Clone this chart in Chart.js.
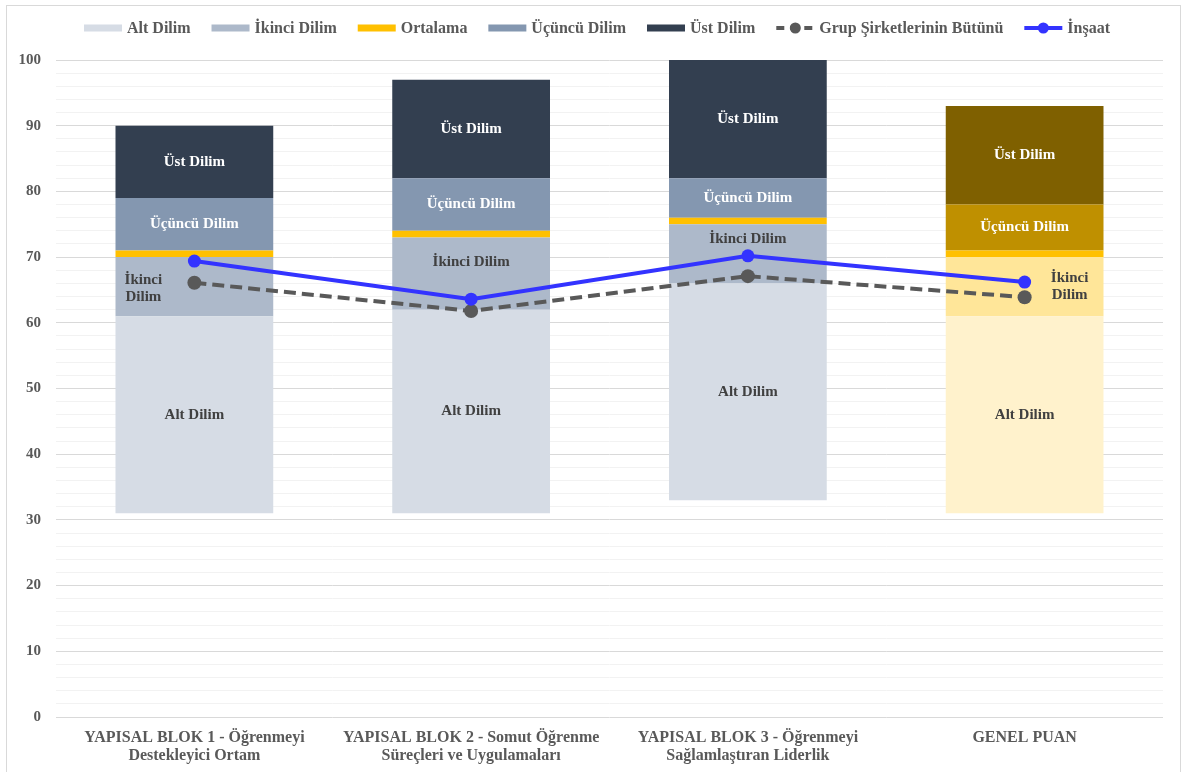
<!DOCTYPE html>
<html lang="tr">
<head>
<meta charset="utf-8">
<title>Yapısal Bloklar - Dilimler</title>
<script src="https://cdn.jsdelivr.net/npm/chart.js@4.4.1/dist/chart.umd.min.js"></script>
<style>
  html, body { margin: 0; padding: 0; background: #ffffff; }
  #wrap { position: relative; width: 1184px; height: 772px; overflow: hidden; }
  #frame {
    position: absolute; left: 6px; top: 5px; width: 1173px; height: 800px;
    border: 1px solid #d9d9d9; pointer-events: none;
  }
</style>
</head>
<body>
<div id="wrap">
  <canvas id="chart"></canvas>
  <div id="frame"></div>
</div>
<script>
  // Categories (x axis)
  const categories = [
    ['YAPISAL BLOK 1 - Öğrenmeyi', 'Destekleyici Ortam'],
    ['YAPISAL BLOK 2 - Somut Öğrenme', 'Süreçleri ve Uygulamaları'],
    ['YAPISAL BLOK 3 - Öğrenmeyi', 'Sağlamlaştıran Liderlik'],
    ['GENEL PUAN']
  ];

  // Band ranges [from, to] per category
  const altDilim     = [[31, 61], [31, 62], [33, 66], [31, 61]];
  const ikinciDilim  = [[61, 70], [62, 73], [66, 75], [61, 70]];
  const ortalama     = [[70, 71], [73, 74], [75, 76], [70, 71]];
  const ucuncuDilim  = [[71, 79], [74, 82], [76, 82], [71, 78]];
  const ustDilim     = [[79, 90], [82, 97], [82, 100], [78, 93]];

  // Line series
  const grupButunu = [66.1, 61.8, 67.1, 63.9];
  const insaat     = [69.4, 63.6, 70.2, 66.2];

  // Y axis
  const yMin = 0, yMax = 100, yStep = 2, yLabelEvery = 10;

  const SERIF = '"Liberation Serif", "Times New Roman", serif';
  const TEXT = '#595959';
  const DARK_LABEL = '#404040';

  // blue palette for blocks, gold palette for GENEL PUAN
  const band = (blue, gold) => [blue, blue, blue, gold];

  const barSets = [
    { label: 'Alt Dilim',    data: altDilim,    color: '#D6DCE5', fills: band('#D6DCE5', '#FFF2CC'), text: DARK_LABEL },
    { label: 'İkinci Dilim', data: ikinciDilim, color: '#ADB9CA', fills: band('#ADB9CA', '#FFE699'), text: DARK_LABEL },
    { label: 'Ortalama',     data: ortalama,    color: '#FFC000', fills: band('#FFC000', '#FFC000'), text: null },
    { label: 'Üçüncü Dilim', data: ucuncuDilim, color: '#8497B0', fills: band('#8497B0', '#BF9000'), text: '#ffffff' },
    { label: 'Üst Dilim',    data: ustDilim,    color: '#333F50', fills: band('#333F50', '#7F6000'), text: '#ffffff' }
  ];

  // special placement of the "İkinci Dilim" labels (pixel offsets)
  const ikinciPlacement = [
    { dx: -51, dy: 2, split: true },
    { dx: 0, dy: -11, split: false },
    { dx: 0, dy: -15, split: false },
    { dx: 45, dy: 0, split: true }
  ];

  const datasets = [];
  barSets.forEach(s => {
    datasets.push({
      type: 'bar',
      label: s.label,
      data: s.data,
      backgroundColor: s.fills,
      legendColor: s.color,
      labelColor: s.text,
      borderWidth: 0,
      barPercentage: 1,
      categoryPercentage: 0.57,
      order: 2
    });
  });
  datasets.push({
    type: 'line',
    label: 'Grup Şirketlerinin Bütünü',
    data: grupButunu,
    borderColor: '#595959',
    backgroundColor: '#595959',
    borderWidth: 4,
    borderDash: [12, 6],
    pointRadius: 7,
    pointBackgroundColor: '#595959',
    pointBorderWidth: 0,
    tension: 0,
    order: 1
  });
  datasets.push({
    type: 'line',
    label: 'İnşaat',
    data: insaat,
    borderColor: '#3333FF',
    backgroundColor: '#3333FF',
    borderWidth: 4,
    pointRadius: 6.5,
    pointBackgroundColor: '#3333FF',
    pointBorderWidth: 0,
    tension: 0,
    order: 0
  });

  // Text inside the bands
  const bandLabels = {
    id: 'bandLabels',
    afterDatasetsDraw(chart) {
      const ctx = chart.ctx;
      ctx.save();
      ctx.font = 'bold 15px ' + SERIF;
      ctx.textAlign = 'center';
      ctx.textBaseline = 'middle';
      chart.data.datasets.forEach((ds, di) => {
        if (ds.type !== 'bar' || !ds.labelColor) return;
        const meta = chart.getDatasetMeta(di);
        meta.data.forEach((el, i) => {
          let x = el.x;
          let y = (el.y + el.base) / 2;
          let lines = [ds.label];
          if (ds.label === 'İkinci Dilim') {
            const p = ikinciPlacement[i];
            x += p.dx;
            y += p.dy;
            if (p.split) lines = ds.label.split(' ');
          }
          ctx.fillStyle = ds.labelColor;
          const lh = 17;
          lines.forEach((t, k) => {
            ctx.fillText(t, x, y + (k - (lines.length - 1) / 2) * lh);
          });
        });
      });
      ctx.restore();
    }
  };

  // Excel-style legend across the top
  const topLegend = {
    id: 'topLegend',
    afterDraw(chart) {
      const ctx = chart.ctx;
      ctx.save();
      ctx.font = 'bold 16px ' + SERIF;
      ctx.textBaseline = 'middle';
      const symW = 38, gapIn = 5, left = 84, right = 1110, cy = 28;
      const items = chart.data.datasets.map(ds => ({ ds, w: ctx.measureText(ds.label).width }));
      const used = items.reduce((a, it) => a + symW + gapIn + it.w, 0);
      const gapOut = (right - left - used) / (items.length - 1);
      let x = left;
      items.forEach(({ ds, w }) => {
        if (ds.type === 'bar') {
          ctx.fillStyle = ds.legendColor;
          ctx.fillRect(x, cy - 3.5, symW, 7);
        } else {
          ctx.strokeStyle = ds.borderColor;
          ctx.lineWidth = ds.borderWidth;
          ctx.setLineDash(ds.borderDash ? [8, 6] : []);
          ctx.beginPath();
          ctx.moveTo(x, cy);
          ctx.lineTo(x + symW, cy);
          ctx.stroke();
          ctx.setLineDash([]);
          ctx.fillStyle = ds.borderColor;
          ctx.beginPath();
          ctx.arc(x + symW / 2, cy, 5.5, 0, Math.PI * 2);
          ctx.fill();
        }
        ctx.fillStyle = TEXT;
        ctx.textAlign = 'left';
        ctx.fillText(ds.label, x + symW + gapIn, cy + 1);
        x += symW + gapIn + w + gapOut;
      });
      ctx.restore();
    }
  };

  new Chart(document.getElementById('chart'), {
    type: 'bar',
    data: { labels: categories, datasets },
    plugins: [bandLabels, topLegend],
    options: {
      responsive: true,
      maintainAspectRatio: false,
      animation: false,
      layout: { padding: { top: 60, right: 21, bottom: 0, left: 0 } },
      plugins: {
        legend: { display: false },
        tooltip: { enabled: false }
      },
      scales: {
        x: {
          stacked: true,
          grid: { display: false },
          border: { display: false },
          ticks: {
            color: TEXT,
            font: { family: SERIF, size: 16, weight: 'bold', lineHeight: 1.1 },
            padding: 4,
            maxRotation: 0,
            autoSkip: false
          },
          afterFit(scale) { scale.height = 55; }
        },
        y: {
          stacked: false,
          min: yMin,
          max: yMax,
          border: { display: false },
          grid: {
            drawTicks: false,
            color: c => (c.tick && c.tick.value % yLabelEvery === 0) ? '#d9d9d9' : '#f2f2f2',
            lineWidth: 1
          },
          ticks: {
            stepSize: yStep,
            autoSkip: false,
            padding: 15,
            color: TEXT,
            font: { family: SERIF, size: 15, weight: 'bold' },
            callback: v => (v % yLabelEvery === 0 ? v : '')
          },
          afterFit(scale) { scale.width = 56; }
        }
      }
    }
  });
</script>
</body>
</html>
